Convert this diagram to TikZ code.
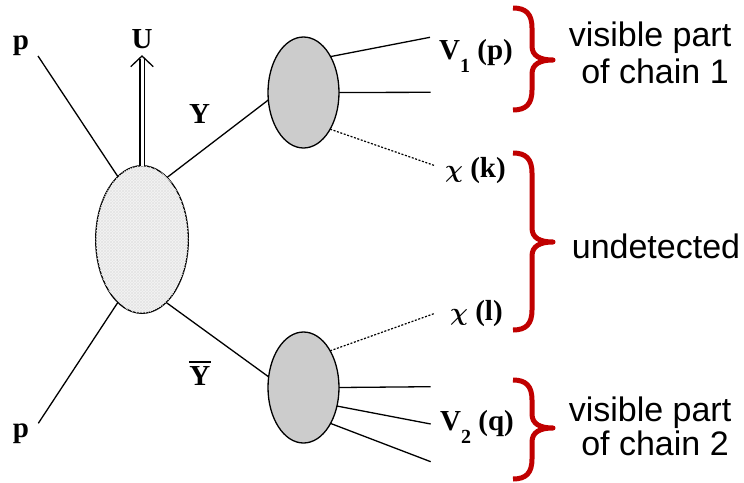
\documentclass[tikz,border=0pt]{standalone}
\usepackage{fontspec}
\setmainfont{Liberation Serif}
\setsansfont{Liberation Sans}
\usetikzlibrary{shapes.geometric,patterns}
\definecolor{bracered}{RGB}{192,0,0}
\newcommand\bracepath[3]{%
  \draw[bracebar] (513,#1) .. controls (526,#1) and (532,#1+6) .. (532,#1+20)
    -- (532,#2-14) .. controls (532,#2-4) and (540,#2) .. (553,#2)
    .. controls (540,#2) and (532,#2+4) .. (532,#2+14)
    -- (532,#3-20) .. controls (532,#3-6) and (526,#3) .. (513,#3);}
\begin{document}
\begin{tikzpicture}[x=1pt,y=-1pt,
  blob/.style={ellipse, draw, line width=1.3pt, inner sep=0pt, outer sep=0pt},
  smallblob/.style={blob, minimum width=71pt, minimum height=111pt, fill=black!20},
  ln/.style={line width=1.3pt},
  dotln/.style={line width=1.2pt, dash pattern=on 2pt off 1.6pt},
  lab/.style={font=\fontsize{29}{30}\selectfont\bfseries, inner sep=0pt},
  side/.style={font=\sffamily\fontsize{34}{36}\selectfont, inner sep=0pt, anchor=base},
  bracebar/.style={draw=bracered, line width=5pt, line join=round}
]
\useasboundingbox (0,0) rectangle (744,482);

% blobs
\node[blob, minimum width=92.6pt, minimum height=147.6pt,
      preaction={fill=black!4}, pattern=north east lines, pattern color=black!10,
      postaction={pattern=north west lines, pattern color=black!10}] (big) at (142,239.5) {};
\node[smallblob] (s1) at (303.5,92.5) {};
\node[smallblob] (s2) at (303.5,387.5) {};

% free ends
\coordinate (pa) at (38,56);
\coordinate (pb) at (38.3,423.3);
\coordinate (Utip) at (142,56);
\coordinate (Utop) at (142,59);
\coordinate (Ul) at (130.7,66.7);
\coordinate (Ur) at (153.3,66.7);
\coordinate (e1a) at (430,37.3);
\coordinate (e1b) at (430.7,92.3);
\coordinate (ek) at (435,165.7);
\coordinate (el) at (435,313.3);
\coordinate (e2a) at (430.7,386.7);
\coordinate (e2b) at (430.7,424);
\coordinate (e2c) at (430.7,461.7);

% connectors
\draw[ln] (pa) -- (big.111.2);
\draw[ln] (pb) -- (big.249.3);
\draw[ln] (big.68.8) -- (s1.192);
\draw[ln] (big.291.4) -- (s2.163);
\draw[line width=1.1pt, double, double distance=3pt] (big.north) -- (Utop);
\draw[line width=1.3pt] (Ul) -- (Utip) -- (Ur);

\draw[ln] (s1.53) -- (e1a);
\draw[ln] (s1.east) -- (e1b);
\draw[dotln] (s1.306) -- (ek);
\draw[dotln] (s2.54) -- (el);
\draw[ln] (s2.east) -- (e2a);
\draw[ln] (s2.331.3) -- (e2b);
\draw[ln] (s2.307.7) -- (e2c);

% labels
\node[lab, anchor=base] (lpa) at (21,49) {p};
\node[lab, anchor=base] (lpb) at (21,437) {p};
\node[lab, anchor=base] (lU) at (142,48) {U};
\node[lab, anchor=base] (lY) at (199.5,123) {Y};
\node[lab, anchor=base] (lYb) at (199.5,385) {\rlap{\rule[22pt]{22pt}{2pt}}\hspace{0.5pt}Y};
\node[lab, anchor=base west] (lV1) at (439,59.3) {V\raisebox{-13pt}{\fontsize{20}{20}\selectfont 1} (p)};
\node[lab, anchor=base west] (lV2) at (440,430) {V\raisebox{-13pt}{\fontsize{20}{20}\selectfont 2} (q)};
\node[lab, anchor=base west] (lk) at (445,177) {{\boldmath$\chi$} (k)};
\node[lab, anchor=base west] (ll) at (450,320) {{\boldmath$\chi$} (l)};

% braces
\bracepath{8}{60}{110}
\bracepath{153}{242}{330}
\bracepath{380}{428}{479}

% side texts
\node[side] (v1a) at (650,46.7) {visible part};
\node[side] (v1b) at (655,83) {of chain 1};
\node[side] (und) at (656,258) {undetected};
\node[side] (v2a) at (650,421.7) {visible part};
\node[side] (v2b) at (655,455) {of chain 2};
\end{tikzpicture}
\end{document}
